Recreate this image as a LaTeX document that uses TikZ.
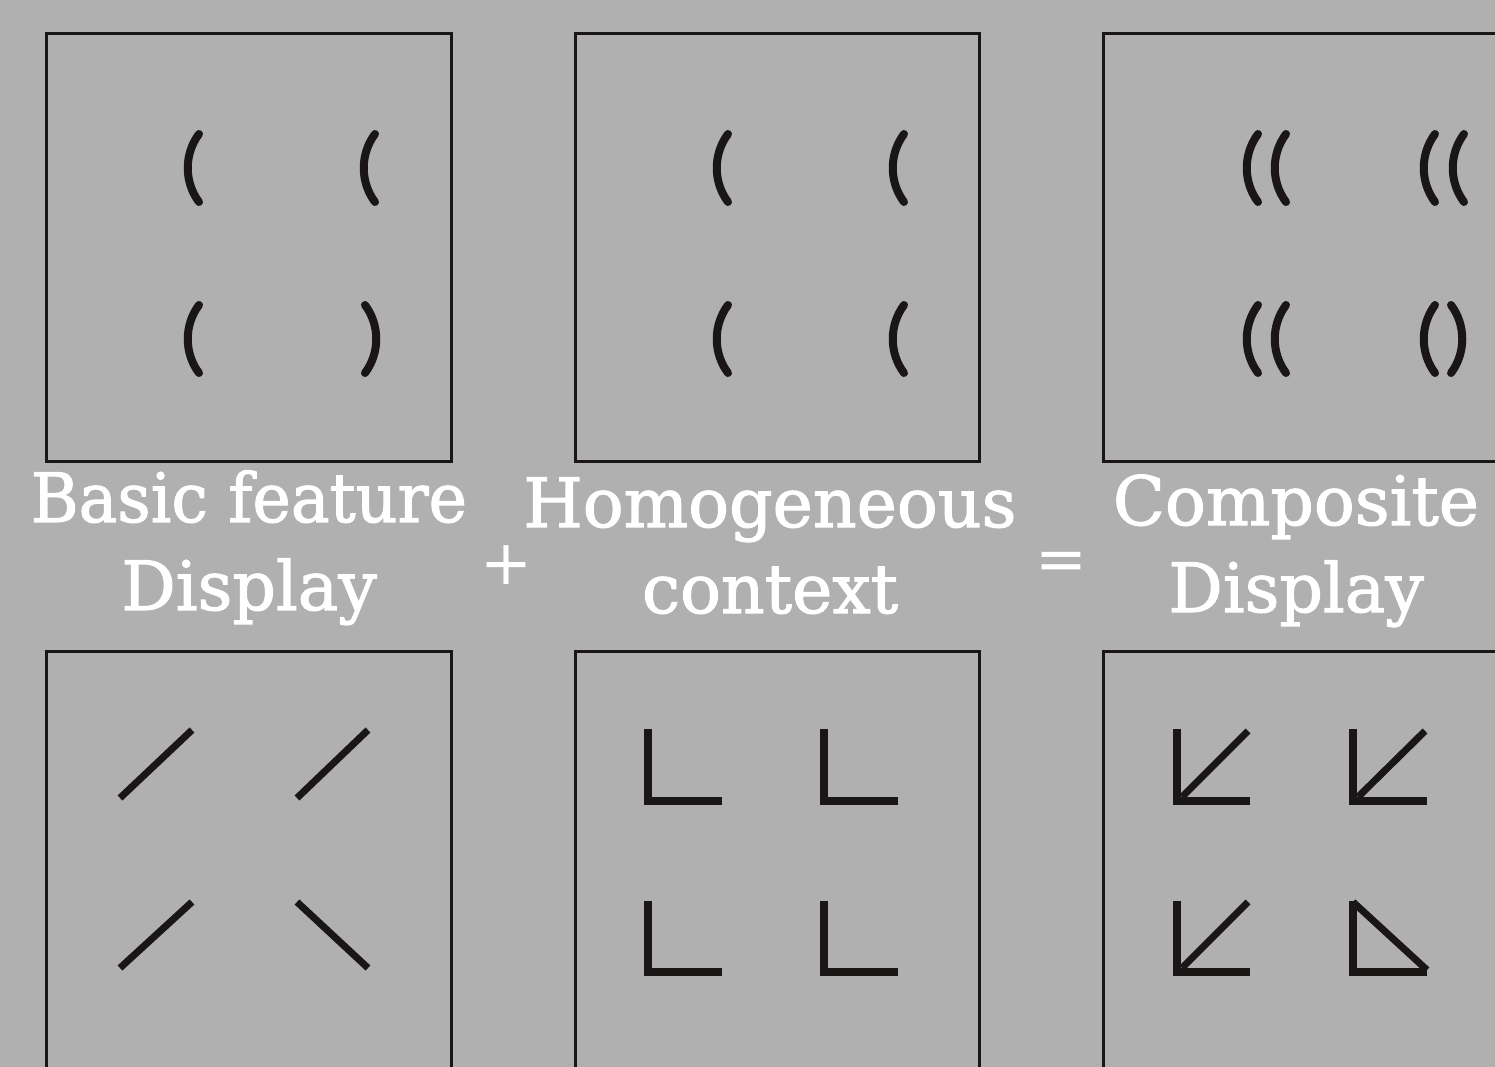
\documentclass[tikz,border=0pt]{standalone}
\usepackage{fontspec}
\newfontfamily\lab[FakeBold=1.6]{DejaVu Serif}
\newfontfamily\signfont{DejaVu Sans}
\definecolor{bg}{RGB}{176,176,176}
\definecolor{ink}{RGB}{26,22,22}
\tikzset{
  frame/.style={draw=ink, line width=3pt},
  arcst/.style={draw=ink, line width=8pt, line cap=round},
  barst/.style={draw=ink, line width=7pt},
  ellst/.style={draw=ink, line width=8pt, line join=miter},
  label/.style={text=white, font=\lab\fontsize{68}{80}\selectfont, inner sep=0pt, anchor=base},
  sign/.style={text=white, font=\signfont\fontsize{62}{70}\selectfont, inner sep=0pt},
  lpar/.pic={\draw[arcst] (0,-34) .. controls (-15,-14) and (-15,14) .. (0,34);},
  rpar/.pic={\draw[arcst] (0,-34) .. controls (15,-14) and (15,14) .. (0,34);}
}
\begin{document}
\begin{tikzpicture}[x=1pt,y=-1pt]
\useasboundingbox (0,0) rectangle (1495,1067);
\clip (0,0) rectangle (1495,1067);
\fill[bg] (0,0) rectangle (1495,1067);
% frames
\draw[frame] (46,34) rectangle (451,461);
\draw[frame] (575,34) rectangle (979,461);
\draw[frame] (1103,34) rectangle (1520,461);
\draw[frame] (46,651) rectangle (451,1100);
\draw[frame] (575,651) rectangle (979,1100);
\draw[frame] (1103,651) rectangle (1520,1100);
% top row: basic feature
\pic at (199,168) {lpar};
\pic at (375,168) {lpar};
\pic at (199,339) {lpar};
\pic at (365,339) {rpar};
% top row: homogeneous context
\pic at (728,168) {lpar};
\pic at (904,168) {lpar};
\pic at (728,339) {lpar};
\pic at (904,339) {lpar};
% top row: composite
\pic at (1258,168) {lpar};
\pic at (1286,168) {lpar};
\pic at (1435,168) {lpar};
\pic at (1464,168) {lpar};
\pic at (1258,339) {lpar};
\pic at (1286,339) {lpar};
\pic at (1435,339) {lpar};
\pic at (1451,339) {rpar};
% bottom row: basic feature
\draw[barst] (120,798) -- (192,730);
\draw[barst] (297,798) -- (368,730);
\draw[barst] (120,968) -- (192,902);
\draw[barst] (297,902) -- (368,968);
% bottom row: context
\draw[ellst] (648,729) -- (648,801) -- (722,801);
\draw[ellst] (824,729) -- (824,801) -- (898,801);
\draw[ellst] (648,901) -- (648,972) -- (722,972);
\draw[ellst] (824,901) -- (824,972) -- (898,972);
% bottom row: composite
\draw[ellst] (1177,729) -- (1177,801) -- (1250,801);
\draw[barst] (1182,797) -- (1248,731);
\draw[ellst] (1353,729) -- (1353,801) -- (1427,801);
\draw[barst] (1358,797) -- (1425,731);
\draw[ellst] (1177,901) -- (1177,972) -- (1250,972);
\draw[barst] (1182,968) -- (1248,902);
\draw[ellst] (1353,901) -- (1353,972) -- (1427,972);
\draw[barst] (1353,902) -- (1427,970);
% labels
\node[label] (b1) at (249,522) {\scalebox{0.955}[1]{Basic feature}};
\node[label] (b2) at (249,610) {Display};
\node[label] (h1) at (770,527) {Homogeneous};
\node[label] (h2) at (770,613) {context};
\node[label] (c1) at (1296,525) {Composite};
\node[label] (c2) at (1296,612) {Display};
\node[sign] (plus) at (506,565) {+};
\node[sign] (eq) at (1061,566) {=};
\end{tikzpicture}
\end{document}
